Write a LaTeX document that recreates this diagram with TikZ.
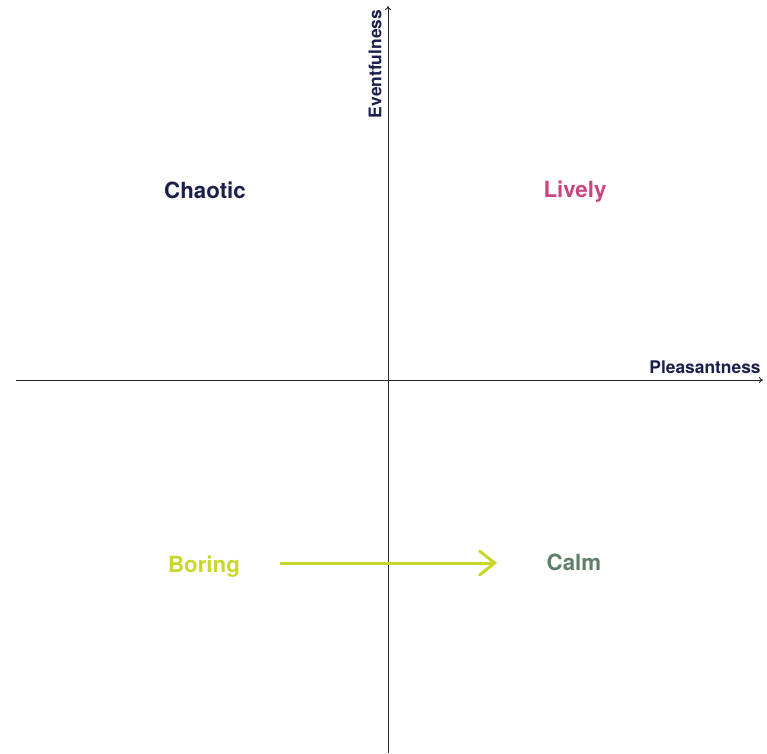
\documentclass[tikz,border=0pt]{standalone}
\usepackage{fontspec}
\setmainfont{TeX Gyre Heros}
\usetikzlibrary{arrows.meta}
\definecolor{navy}{HTML}{1B1F4B}
\definecolor{lively}{HTML}{C8457F}
\definecolor{boring}{HTML}{C9D62B}
\definecolor{calm}{HTML}{5F8068}
\begin{document}
\begin{tikzpicture}[x=1pt, y=-1pt,
  axis/.style = {draw=black!85, line width=0.9pt, -{To[length=4pt,width=6pt]}},
  mood/.style = {font=\bfseries\fontsize{22.3pt}{26pt}\selectfont, inner sep=0pt},
  axlabel/.style = {font=\bfseries\fontsize{17.4pt}{20pt}\selectfont, text=navy, inner sep=0pt}]
\useasboundingbox (0,0) rectangle (767,753);

\coordinate (xs) at (16,380);
\coordinate (xe) at (763,380);
\coordinate (ys) at (388,753);
\coordinate (ye) at (388,6);

\draw[axis] (xs) -- (xe);
\draw[axis] (ys) -- (ye);

\node[axlabel] (pleas) at (705,367) {Pleasantness};
\node[axlabel, rotate=90] (event) at (375,64) {Eventfulness};

\node[mood, text=navy] (chaotic) at (205,190) {Chaotic};
\node[mood, text=lively] (lively) at (575,192) {Lively};
\node[mood, text=boring] (boring) at (204,567) {Boring};
\node[mood, text=calm] (calm) at (574,562) {Calm};

\coordinate (from) at (280,563);
\coordinate (to) at (497,563);
\draw[boring, line width=3pt, -{Straight Barb[length=15pt,width=24pt,line cap=round]}] (from) -- (to);
\end{tikzpicture}
\end{document}
